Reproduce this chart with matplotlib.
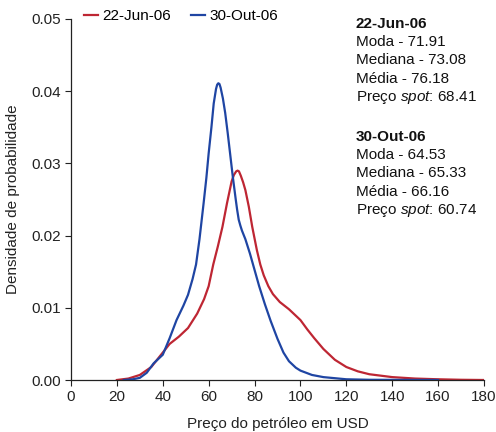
import matplotlib
matplotlib.use("Agg")
import matplotlib.pyplot as plt

plt.rcParams['font.family'] = ['Liberation Sans', 'DejaVu Sans']
plt.rcParams['mathtext.fontset'] = 'custom'
plt.rcParams['mathtext.rm'] = 'Liberation Sans'
plt.rcParams['mathtext.it'] = 'Liberation Sans:italic'

# curva de 22-Jun-06
jun_x = [20, 25, 30, 35, 38, 40, 43, 47, 51, 55, 58, 60, 62, 64, 66, 68, 70, 71, 72,
         72.6, 73.2, 74, 75, 76, 77.5, 79, 81, 82.5, 84, 86, 88, 91, 95, 100, 103, 106,
         110, 115, 120, 125, 130, 140, 150, 160, 170, 180]
jun_y = [0.0, 0.0002, 0.0007, 0.0018, 0.0030, 0.0038, 0.0050, 0.0060, 0.0072, 0.0092,
         0.0112, 0.0130, 0.0160, 0.0185, 0.0212, 0.0245, 0.0275, 0.0284, 0.0289, 0.0290,
         0.0289, 0.0283, 0.0274, 0.0263, 0.0240, 0.0212, 0.0180, 0.0160, 0.0145, 0.0130,
         0.0119, 0.0108, 0.0098, 0.0083, 0.0070, 0.0058, 0.0043, 0.0028, 0.0018, 0.0012,
         0.0008, 0.0004, 0.0002, 0.0001, 0.00003, 0.0]

# curva de 30-Out-06
out_x = [23, 27, 30, 33, 36, 40, 43, 46, 49, 51, 53, 54.5, 56, 57.8, 59, 60, 61.2,
         62.2, 63.2, 63.7, 64.2, 64.7, 65.2, 66.2, 67.2, 68.3, 69.4, 70.5, 71.8, 72.4,
         73.1, 73.8, 74.5, 76, 78, 79.6, 82, 84.5, 87, 90, 92.6, 95, 98, 100, 105, 110,
         120, 130, 160]
out_y = [0.0, 0.0001, 0.0003, 0.0010, 0.0023, 0.0035, 0.0058, 0.0083, 0.0103, 0.0118,
         0.0140, 0.0160, 0.0195, 0.0245, 0.0280, 0.0314, 0.0350, 0.0383, 0.0403, 0.0409,
         0.0411, 0.0410, 0.0405, 0.0390, 0.0370, 0.0342, 0.0312, 0.0282, 0.0250, 0.0236,
         0.0222, 0.0214, 0.0207, 0.0195, 0.0175, 0.0157, 0.0130, 0.0105, 0.0082, 0.0057,
         0.0038, 0.0026, 0.0017, 0.0013, 0.0007, 0.0004, 0.0001, 0.00003, 0.0]

labels = ["22-Jun-06", "30-Out-06"]
stats = {
    "22-Jun-06": ["71.91", "73.08", "76.18", "68.41"],
    "30-Out-06": ["64.53", "65.33", "66.16", "60.74"],
}

red = '#BE2633'
blue = '#1F45A3'
fs = 11

W, H = 496, 432
fig = plt.figure(figsize=(W / 100, H / 100), dpi=100)
ax = fig.add_axes([71 / W, 1 - 380 / H, (484 - 71) / W, (380 - 19) / H])

ax.plot(jun_x, jun_y, color=red, lw=1.6, label=labels[0])
ax.plot(out_x, out_y, color=blue, lw=1.6, label=labels[1])

ax.set_xlim(0, 180)
ax.set_ylim(0, 0.05)
ax.set_xticks(range(0, 181, 20))
ax.set_yticks([0, 0.01, 0.02, 0.03, 0.04, 0.05])
ax.yaxis.set_major_formatter(matplotlib.ticker.FormatStrFormatter('%.2f'))
ax.tick_params(labelsize=fs, colors='#222222', length=4, width=0.8, direction='out')
for s in ['top', 'right']:
    ax.spines[s].set_visible(False)
for s in ['left', 'bottom']:
    ax.spines[s].set_color('#222222')
    ax.spines[s].set_linewidth(0.9)

ax.set_xlabel("Preço do petróleo em USD", fontsize=fs, color='#222222', labelpad=9)
ax.set_ylabel("Densidade de probabilidade", fontsize=fs, color='#222222', labelpad=8)

ax.legend(loc='upper left', bbox_to_anchor=(0.025, 1.035), ncol=2, frameon=False,
          fontsize=fs, handlelength=0.9, handletextpad=0.3, columnspacing=1.3,
          borderpad=0.2, borderaxespad=0)

# bloco de texto a direita
x0 = 356 / W
base = [28, 141]
step = 18.2
for b, lab in zip(base, labels):
    v = stats[lab]
    lines = ["Moda - " + v[0], "Mediana - " + v[1], "Média - " + v[2],
             "Preço $\\mathit{spot}$: " + v[3]]
    fig.text(x0, 1 - b / H, lab, fontsize=fs, fontweight='bold', va='baseline',
             color='#111111')
    for i, t in enumerate(lines):
        fig.text(x0, 1 - (b + step * (i + 1)) / H, t, fontsize=fs, va='baseline',
                 color='#111111')

fig.savefig("out.png", dpi=100)
